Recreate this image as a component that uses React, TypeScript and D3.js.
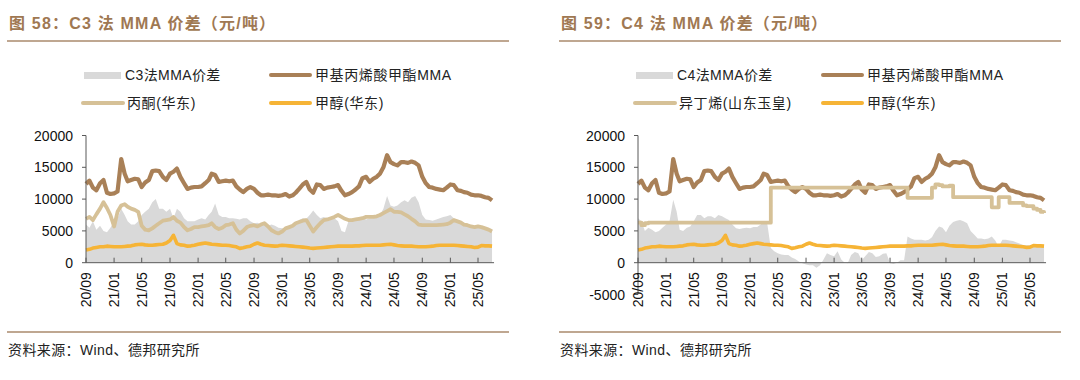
import React from 'react';
import * as d3 from 'd3';

// Semi-monthly observation dates: 1st and 16th of each month, 2020-09-01 .. 2025-07-01
const DATES: Date[] = d3.range(117).map((i) => new Date(2020, 8 + Math.floor(i / 2), i % 2 ? 16 : 1));

const TICK_DATES: Date[] = d3.range(15).map((i) => new Date(2020, 8 + i * 4, 1));

// 甲基丙烯酸甲酯MMA
const MMA = [
  12400, 12900, 11800, 11400, 12500, 13000, 11000, 10800, 10900, 11200,
  16300, 14000, 12800, 13000, 13200, 13100, 11900, 12600, 13000, 14400,
  14500, 14400, 13500, 13000, 14000, 14300, 14800, 13500, 12500, 11600,
  11800, 11900, 11900, 12000, 12500, 13000, 14000, 13800, 12700, 12800,
  12900, 12800, 12900, 12000, 11500, 11100, 11600, 11900, 11600, 11000,
  10600, 10600, 10700, 10600, 10600, 10500, 10600, 10800, 10400, 10600,
  11000, 11600, 12300, 12700, 11500, 11000, 12300, 12200, 11600, 11800,
  11900, 12000, 12200, 11300, 10600, 10800, 11100, 11500, 12000, 13300,
  13500, 12700, 13200, 13500, 14000, 15000, 16900, 15800, 15500, 15300,
  15800, 15800, 15700, 15900, 15700, 15300, 13500, 12500, 11900, 11800,
  11600, 11500, 11400, 11800, 12300, 12200, 11400, 11300, 11100, 11000,
  10700, 10600, 10600, 10500, 10300, 10200, 9800,
];

// 丙酮(华东)
const ACETONE = [
  6900, 7200, 6700, 7600, 8500, 9500, 8600, 7500, 5700, 8000,
  9000, 9200, 8800, 8500, 8300, 8000, 5800, 5200, 5100, 5400,
  5800, 6200, 6600, 6700, 6800, 7200, 6600, 6300, 5600, 5100,
  5300, 5600, 5600, 5700, 5800, 5900, 6200, 5600, 5300, 5500,
  5900, 6000, 6200, 5200, 4600, 5000, 5600, 5800, 5900, 5700,
  6000, 6200, 5700, 5100, 4800, 4600, 4900, 5400, 5600, 5800,
  6200, 6400, 6600, 6700, 5800, 4900, 5600, 6200, 6700, 6800,
  7000, 7200, 7500, 7200, 6900, 6700, 6700, 6800, 6900, 7000,
  7200, 7200, 7200, 7300, 7500, 7800, 8100, 8400, 8000, 8000,
  7900, 7600, 7300, 6900, 6500, 6000, 5900, 5900, 5900, 5900,
  5900, 5950, 6000, 6050, 6300, 6700, 6500, 6300, 6000, 5900,
  5700, 5600, 5700, 5600, 5400, 5200, 4900,
];

// 甲醇(华东)
const METHANOL = [
  2000, 2100, 2300, 2400, 2500, 2500, 2600, 2550, 2500, 2500,
  2500, 2550, 2600, 2650, 2800, 2850, 2900, 2800, 2750, 2750,
  2800, 2850, 2900, 3100, 3500, 4300, 3000, 2800, 2750, 2600,
  2650, 2750, 2900, 3000, 3100, 3000, 2900, 2850, 2800, 2750,
  2750, 2700, 2600, 2500, 2250, 2350, 2500, 2600, 2900, 3100,
  2900, 2750, 2700, 2650, 2600, 2650, 2750, 2700, 2650, 2600,
  2550, 2500, 2450, 2400, 2300, 2250, 2300, 2350, 2400, 2450,
  2500, 2550, 2600, 2600, 2600, 2600, 2600, 2650, 2650, 2700,
  2750, 2750, 2750, 2750, 2750, 2800, 2850, 2900, 2800, 2700,
  2650, 2600, 2600, 2600, 2550, 2500, 2500, 2500, 2550, 2600,
  2700, 2750, 2750, 2750, 2750, 2750, 2700, 2650, 2600, 2550,
  2500, 2400, 2450, 2700, 2650, 2650, 2600,
];

// C3法MMA价差
const C3_SPREAD = [
  6000, 5500, 6500, 5200, 5800, 5000, 4800, 5500, 6500, 7000,
  8500, 7500, 6500, 6000, 6000, 6500, 7500, 8000, 8500, 9500,
  10000, 8500, 8500, 8000, 8500, 7000, 8500, 8000, 7000, 6500,
  6500, 6500, 6800, 7000, 6800, 7500, 8000, 9300, 7500, 7200,
  7200, 7000, 7000, 6900, 6800, 7000, 7000, 6500, 6200, 6300,
  6000, 6200, 5800, 6000, 5800, 5500, 5400, 5500, 5400, 5700,
  6000, 6700, 7000, 6900, 7500, 8200, 7500, 7000, 7200, 7000,
  7200, 7000, 6500, 5000, 4800, 6500, 6900, 7000, 6900, 7000,
  6800, 7000, 7000, 7200, 7500, 8500, 10500, 9000, 8800, 9000,
  9500, 9800, 9500, 10200, 10500, 9500, 7500, 6800, 6700, 6600,
  6800, 7000, 7200, 7300, 7500, 7000, 6500, 6300, 6200, 6000,
  5800, 5700, 5600, 5600, 5500, 5400, 5300,
];

// 异丁烯(山东玉皇)
const ISOBUTYLENE = [
  6300, 5900, 6200, 6300, 6300, 6300, 6300, 6300, 6300, 6300,
  6300, 6300, 6300, 6300, 6300, 6300, 6300, 6300, 6300, 6300,
  6300, 6300, 6300, 6300, 6300, 6300, 6300, 6300, 6300, 6300,
  6300, 6300, 6300, 6300, 6300, 6300, 6300, 6300, 11800, 11800,
  11800, 11800, 11800, 11800, 11800, 11800, 11800, 11800, 11800, 11800,
  11800, 11800, 11800, 11800, 11800, 11800, 11800, 11800, 11800, 11800,
  11800, 11800, 11800, 11800, 11800, 11800, 11800, 11800, 11800, 11800,
  11800, 11800, 11800, 11800, 11800, 11800, 11800, 10200, 10200, 10200,
  10200, 10200, 10200, 10200, 11800, 12300, 12200, 12000, 12000, 12100,
  10300, 10300, 10300, 10300, 10300, 10300, 10300, 10300, 10300, 10300,
  10300, 8700, 8700, 10300, 10300, 10300, 9400, 9400, 9400, 9400,
  9000, 8900, 8900, 8500, 8300, 8000, 7800,
];

// C4法MMA价差
const C4_SPREAD = [
  7000, 6500, 5000, 5500, 5200, 4800, 5000, 5500, 6000, 6500,
  9900, 8000, 5200, 5000, 5500, 5700, 6500, 7500, 7500, 7000,
  7300, 7300, 7000, 7500, 7300, 7000, 6700, 6000, 5400, 5300,
  5400, 5500, 5400, 5600, 5600, 6000, 6500, 6300, 2300, 1800,
  1500, 1300, 1200, 1200, 800, 600, 200, -100, -300, -400,
  -400, -800, -400, 500, 1500, 1200, 1000, 1800, 500, 0,
  -100, 1200, 1700, 1500, 400, 1000, 1700, 1500, 900, 1000,
  1400, 1500, -100, -200, 0, 400, 400, 4100, 3800, 3600,
  3600, 3600, 3500, 3600, 4000, 5000, 5700, 5500, 4800, 5800,
  6400, 6600, 6700, 6500, 6200, 5000, 4400, 3800, 3800, 3700,
  3800, 4100, 3500, 2500, 3600, 3600, 3500, 3400, 3200, 3000,
  2800, 2800, 2700, 2600, 2600, 2600, 2700,
];

const C_MMA = '#A98057';
const C_BEIGE = '#D6C197';
const C_METH = '#F6B436';
const C_GREY = '#D9D9D9';
const C_TITLE = '#9F7852';
const C_RULE = '#AA8A6C';
const C_AXIS = '#595959';
const FONT = "'Liberation Sans', Arial, 'Noto Sans CJK SC', sans-serif";

type PanelProps = {
  dx: number;
  title: string;
  spreadName: string;
  spread: number[];
  feedName: string;
  feed: number[];
  stepFeed: boolean;
  yMin: number;
  yTicks: number[];
};

function Panel({ dx, title, spreadName, spread, feedName, feed, stepFeed, yMin, yTicks }: PanelProps) {
  const axisX = 86 + dx;
  const x = d3
    .scaleTime()
    .domain([new Date(2020, 8, 1), new Date(2025, 4, 1)])
    .range([axisX, axisX + 392]);
  const yTop = 135.5;
  const yZero = 262.7;
  const per = (yZero - yTop) / 20000;
  const y = d3.scaleLinear().domain([yMin, 20000]).range([yZero + (0 - yMin) * per, yTop]);

  const area = d3
    .area<number>()
    .x((_, i) => x(DATES[i]))
    .y0(y(0))
    .y1((d) => y(d));
  const line = d3
    .line<number>()
    .x((_, i) => x(DATES[i]))
    .y((d) => y(d));
  const stepLine = d3
    .line<number>()
    .x((_, i) => x(DATES[i]))
    .y((d) => y(d))
    .curve(d3.curveStepAfter);

  const xEnd = x(DATES[DATES.length - 1]) + 2;
  const fmt = d3.timeFormat('%y/%m');
  const left = 7 + dx;
  const right = 509 + dx;

  return (
    <g>
      <text
        x={9 + dx}
        y={29}
        fill={C_TITLE}
        fontSize={16}
        fontWeight="bold"
        fontFamily={FONT}
        letterSpacing={1.2}
      >
        {title}
      </text>
      <line x1={left} x2={right} y1={41} y2={41} stroke={C_RULE} strokeWidth={1.6} />

      {/* legend */}
      <rect x={84 + dx} y={72} width={37} height={7} fill={C_GREY} />
      <text x={125 + dx} y={80} fontSize={14} fontFamily={FONT} fill="#222" letterSpacing={0.4}>{spreadName}</text>
      <line x1={271 + dx} x2={310 + dx} y1={75} y2={75} stroke={C_MMA} strokeWidth={4} strokeLinecap="round" />
      <text x={315 + dx} y={80} fontSize={14} fontFamily={FONT} fill="#222" letterSpacing={0.6}>甲基丙烯酸甲酯MMA</text>
      <line x1={83 + dx} x2={123 + dx} y1={103} y2={103} stroke={C_BEIGE} strokeWidth={4} strokeLinecap="round" />
      <text x={127 + dx} y={108} fontSize={14} fontFamily={FONT} fill="#222" letterSpacing={0.6}>{feedName}</text>
      <line x1={271 + dx} x2={310 + dx} y1={103} y2={103} stroke={C_METH} strokeWidth={4} strokeLinecap="round" />
      <text x={315 + dx} y={108} fontSize={14} fontFamily={FONT} fill="#222" letterSpacing={0.6}>甲醇(华东)</text>

      {/* series */}
      <path d={area(spread) ?? ''} fill={C_GREY} />
      <path d={line(MMA) ?? ''} fill="none" stroke={C_MMA} strokeWidth={4.2} strokeLinejoin="round" />
      <path
        d={(stepFeed ? stepLine(feed) : line(feed)) ?? ''}
        fill="none"
        stroke={C_BEIGE}
        strokeWidth={3.8}
        strokeLinejoin="round"
      />
      <path d={line(METHANOL) ?? ''} fill="none" stroke={C_METH} strokeWidth={3.6} strokeLinejoin="round" />

      {/* y axis */}
      <line x1={axisX} x2={axisX} y1={y(20000)} y2={y(yMin)} stroke={C_AXIS} strokeWidth={1} />
      {yTicks.map((t) => (
        <g key={t}>
          <line x1={axisX - 4} x2={axisX} y1={y(t)} y2={y(t)} stroke={C_AXIS} strokeWidth={1} />
          <text
            x={axisX - 13}
            y={y(t)}
            dy="0.36em"
            textAnchor="end"
            fontSize={14}
            fontFamily={FONT}
            fill="#111"
          >
            {t}
          </text>
        </g>
      ))}

      {/* x axis at zero */}
      <line x1={axisX} x2={xEnd} y1={y(0)} y2={y(0)} stroke={C_AXIS} strokeWidth={1} />
      {TICK_DATES.map((d) => (
        <g key={d.getTime()}>
          <line x1={x(d)} x2={x(d)} y1={y(0)} y2={y(0) - 5} stroke={C_AXIS} strokeWidth={1} />
          <text
            transform={`translate(${x(d)},${y(0) + 9.5}) rotate(-90)`}
            dy="0.36em"
            textAnchor="end"
            fontSize={14}
            fontFamily={FONT}
            fill="#111"
          >
            {fmt(d)}
          </text>
        </g>
      ))}

      {/* footer */}
      <line x1={left} x2={right} y1={332} y2={332} stroke={C_RULE} strokeWidth={1.6} />
      <text x={8 + dx} y={355} fontSize={14} fontFamily={FONT} fill="#222" letterSpacing={0.4}>
        资料来源：Wind、德邦研究所
      </text>
    </g>
  );
}

export default function App() {
  return (
    <svg
      width={1080}
      height={380}
      viewBox="0 0 1080 380"
      style={{ position: 'absolute', left: 0, top: 0, background: '#fff' }}
    >
      <rect width={1080} height={380} fill="#fff" />
      <Panel
        dx={0}
        title="图 58：C3 法 MMA 价差（元/吨）"
        spreadName="C3法MMA价差"
        spread={C3_SPREAD}
        feedName="丙酮(华东)"
        feed={ACETONE}
        stepFeed={false}
        yMin={0}
        yTicks={[0, 5000, 10000, 15000, 20000]}
      />
      <Panel
        dx={552}
        title="图 59：C4 法 MMA 价差（元/吨）"
        spreadName="C4法MMA价差"
        spread={C4_SPREAD}
        feedName="异丁烯(山东玉皇)"
        feed={ISOBUTYLENE}
        stepFeed={true}
        yMin={-5000}
        yTicks={[-5000, 0, 5000, 10000, 15000, 20000]}
      />
    </svg>
  );
}
